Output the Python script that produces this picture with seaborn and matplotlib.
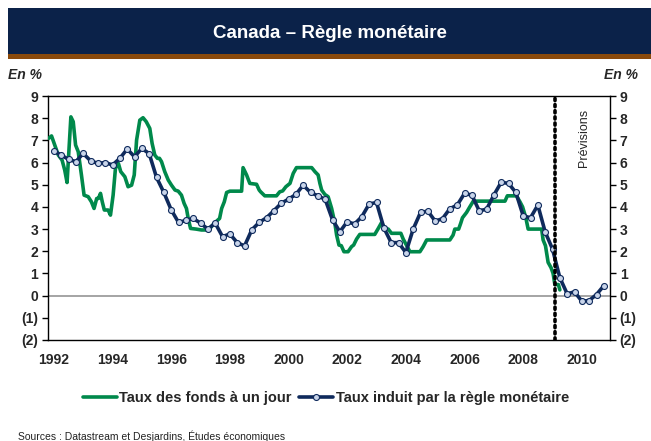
import numpy as np
import pandas as pd
import matplotlib
matplotlib.use("Agg")
import matplotlib.pyplot as plt
from matplotlib.patches import Rectangle
from matplotlib.ticker import FuncFormatter
import seaborn as sns

# ---------------- data ----------------
# Overnight rate (Taux des fonds à un jour), decimal years
green_t = [1991.82, 1991.92, 1992.03, 1992.15, 1992.28, 1992.37, 1992.45, 1992.58, 1992.66, 1992.74,
           1992.83, 1992.94, 1993.03, 1993.17, 1993.28, 1993.37, 1993.46, 1993.52, 1993.59, 1993.65,
           1993.72, 1993.85, 1993.93, 1994.02, 1994.10, 1994.20, 1994.28, 1994.42, 1994.53, 1994.65,
           1994.74, 1994.82, 1994.93, 1995.04, 1995.15, 1995.27, 1995.35, 1995.44, 1995.53, 1995.60,
           1995.67, 1995.78, 1995.90, 1996.01, 1996.13, 1996.24, 1996.35, 1996.44, 1996.52, 1996.58,
           1996.66, 1996.85, 1997.03, 1997.20, 1997.32, 1997.43, 1997.55, 1997.65, 1997.72, 1997.81,
           1997.89, 1998.00, 1998.40, 1998.45, 1998.57, 1998.68, 1998.91, 1999.00, 1999.05, 1999.19,
           1999.59, 1999.70, 1999.80, 1999.91, 2000.05, 2000.16, 2000.27, 2000.79, 2000.90, 2001.01,
           2001.07, 2001.13, 2001.24, 2001.35, 2001.47, 2001.58, 2001.64, 2001.72, 2001.80, 2001.89,
           2002.03, 2002.15, 2002.22, 2002.32, 2002.43, 2002.94, 2003.06, 2003.17, 2003.28, 2003.40,
           2003.51, 2003.83, 2003.91, 2004.02, 2004.14, 2004.48, 2004.59, 2004.71, 2005.50, 2005.61,
           2005.67, 2005.80, 2005.87, 2005.93, 2006.07, 2006.18, 2006.30, 2007.38, 2007.46, 2007.77,
           2007.89, 2007.98, 2008.09, 2008.17, 2008.63, 2008.68, 2008.76, 2008.85, 2008.95, 2009.02,
           2009.08, 2009.20, 2009.25]
green_v = [7.09, 7.20, 6.79, 6.34, 6.11, 5.66, 5.10, 8.06, 7.84, 6.79,
           6.49, 5.44, 4.53, 4.46, 4.23, 3.93, 4.38, 4.38, 4.61, 4.23,
           3.86, 3.86, 3.63, 4.53, 5.74, 5.96, 5.59, 5.36, 4.91, 4.98,
           5.44, 7.01, 7.91, 8.02, 7.84, 7.54, 6.86, 6.34, 6.19, 6.19,
           6.04, 5.59, 5.21, 4.98, 4.76, 4.71, 4.53, 4.16, 3.93, 3.48,
           3.03, 3.00, 2.96, 2.96, 3.03, 3.20, 3.36, 3.48, 3.93, 4.23,
           4.65, 4.71, 4.71, 5.77, 5.44, 5.06, 5.02, 4.76, 4.68, 4.50,
           4.50, 4.68, 4.72, 4.91, 5.06, 5.51, 5.77, 5.77, 5.59, 5.44,
           5.06, 4.76, 4.56, 4.46, 3.93, 3.26, 2.73, 2.28, 2.25, 1.98,
           1.98, 2.21, 2.28, 2.55, 2.76, 2.76, 3.03, 3.29, 3.03, 3.00,
           2.81, 2.81, 2.55, 2.28, 1.98, 1.98, 2.21, 2.51, 2.51, 2.73,
           3.00, 3.00, 3.26, 3.51, 3.75, 4.00, 4.26, 4.26, 4.50, 4.50,
           4.23, 4.00, 3.51, 3.00, 3.00, 2.51, 2.25, 1.50, 1.26, 1.00,
           0.50, 0.50, 0.26]

# Monetary-rule rate (Taux induit par la règle monétaire), quarterly 1992Q1-2010Q4
rule_start = 1992.0
rule_v = [6.52, 6.34, 6.14, 6.04, 6.41, 6.08, 5.96, 6.00, 5.89, 6.19,
          6.61, 6.26, 6.64, 6.40, 5.33, 4.65, 3.87, 3.30, 3.39, 3.48,
          3.27, 3.00, 3.27, 2.66, 2.78, 2.39, 2.24, 2.97, 3.30, 3.51,
          3.83, 4.16, 4.35, 4.56, 4.98, 4.65, 4.50, 4.34, 3.42, 2.88,
          3.33, 3.23, 3.56, 4.13, 4.20, 3.06, 2.39, 2.39, 1.94, 3.00,
          3.75, 3.81, 3.36, 3.47, 3.92, 4.08, 4.61, 4.53, 3.83, 3.89,
          4.53, 5.11, 5.06, 4.65, 3.60, 3.51, 4.08, 2.87, 2.10, 0.81,
          0.08, 0.17, -0.25, -0.22, 0.05, 0.45]
rule_t = [rule_start + i / 4 for i in range(len(rule_v))]

forecast_start = 2009.08
year_ticks = list(range(1992, 2011, 2))
y_ticks = list(range(-2, 10))

title = "Canada – Règle monétaire"
label_green = "Taux des fonds à un jour"
label_rule = "Taux induit par la règle monétaire"
source = "Sources : Datastream et Desjardins, Études économiques"

# ---------------- style ----------------
GREEN = "#00894b"
NAVY = "#0f2a5c"
MARKER_FILL = "#c9d5ea"

sns.set_style("white")
plt.rcParams['font.family'] = ['Liberation Sans', 'DejaVu Sans']

W, H = 651, 441
fig = plt.figure(figsize=(W / 100, H / 100), dpi=100)
fig.patch.set_facecolor("white")

# title band
fig.patches.append(Rectangle((8 / W, 1 - 54 / H), 1 - 8 / W, 46 / H, transform=fig.transFigure,
                             facecolor="#0b2249", edgecolor="none", zorder=0))
fig.patches.append(Rectangle((8 / W, 1 - 59 / H), 1 - 8 / W, 5 / H, transform=fig.transFigure,
                             facecolor="#8a4a0c", edgecolor="none", zorder=0))
fig.text(330 / W, 1 - 33 / H, title, color="white", fontsize=13.5, fontweight="bold",
         ha="center", va="center")

fig.text(25 / W, 1 - 75 / H, "En %", fontsize=10, fontweight="bold", fontstyle="italic",
         ha="center", va="center")
fig.text(621 / W, 1 - 75 / H, "En %", fontsize=10, fontweight="bold", fontstyle="italic",
         ha="center", va="center")

ax = fig.add_axes([48 / W, 1 - 340 / H, (610 - 48) / W, (340 - 96) / H])

df_green = pd.DataFrame({"t": green_t, "v": green_v})
df_rule = pd.DataFrame({"t": rule_t, "v": rule_v})

ax.axhline(0, color="#8c8c8c", lw=1.1, zorder=1)

sns.lineplot(data=df_green, x="t", y="v", ax=ax, color=GREEN, lw=2.6, estimator=None,
             label=label_green, zorder=3)
sns.lineplot(data=df_rule, x="t", y="v", ax=ax, color=NAVY, lw=2.6, estimator=None,
             marker="o", markersize=4.3, markerfacecolor=MARKER_FILL, markeredgecolor=NAVY,
             markeredgewidth=0.8, label=label_rule, zorder=4)

ax.axvline(forecast_start, color="black", lw=2.6, linestyle=(0, (0.6, 1.1)),
           dash_capstyle="round", zorder=5)
ax.text(2010.08, 7.1, "Prévisions", rotation=90, fontsize=9, ha="center", va="center")

ax.set_xlim(1991.80, 2010.96)
ax.set_ylim(-2, 9)
ax.set_xticks(year_ticks)
ax.set_xticklabels([str(y) for y in year_ticks])
ax.set_yticks(y_ticks)
ax.yaxis.set_major_formatter(FuncFormatter(lambda v, p: f"({abs(int(v))})" if v < 0 else f"{int(v)}"))
ax.set_xlabel("")
ax.set_ylabel("")

for s in ax.spines.values():
    s.set_visible(True)
    s.set_color("black")
    s.set_linewidth(1.0)

ax.tick_params(axis="y", which="both", left=True, right=True, labelleft=True, labelright=True,
               direction="out", length=4, width=1, color="black", pad=3)
ax.tick_params(axis="x", length=0, pad=9)
for lab in ax.get_xticklabels() + ax.get_yticklabels():
    lab.set_fontweight("bold")
    lab.set_fontsize(10)

handles, labels = ax.get_legend_handles_labels()
ax.get_legend().remove()
fig.legend(handles, labels, loc="center", bbox_to_anchor=(326 / W, 1 - 398 / H), ncol=2,
           frameon=False, prop={"weight": "bold", "size": 10.5}, handlelength=2.3,
           handletextpad=0.2, columnspacing=0.5, borderpad=0)

fig.text(18 / W, 1 - 436 / H, source, fontsize=7.5, ha="left", va="center", color="#222222")

fig.savefig("out.png", dpi=100)
